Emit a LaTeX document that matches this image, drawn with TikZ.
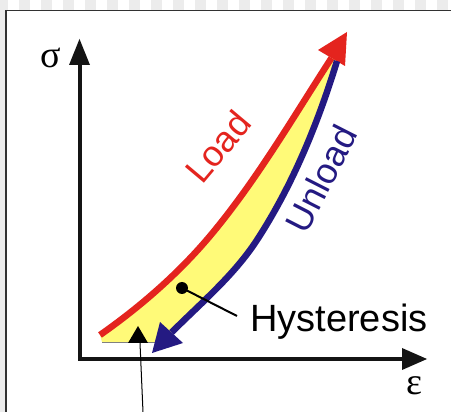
\documentclass[tikz,border=0pt]{standalone}
\usepackage{fontspec}
\setmainfont{Liberation Sans}
\newfontfamily\greekfont{Liberation Serif}
\definecolor{loadred}{RGB}{228,36,30}
\definecolor{unblue}{RGB}{36,26,130}
\definecolor{hystyel}{RGB}{255,250,120}
\definecolor{stripegray}{RGB}{236,236,236}
\definecolor{framegray}{RGB}{50,50,50}
\definecolor{axisblack}{RGB}{20,20,20}
\tikzset{
  bigtext/.style={inner sep=0pt, font=\fontsize{38}{40}\selectfont},
  curvetext/.style={inner sep=0pt, font=\fontsize{36}{38}\selectfont},
  greektext/.style={inner sep=0pt, font=\greekfont\fontsize{38}{40}\selectfont},
  axisline/.style={line width=4pt, draw=axisblack},
  curveline/.style={line width=6.5pt},
}
\begin{document}
\begin{tikzpicture}[x=1pt,y=-1pt]
\useasboundingbox (0,0) rectangle (451,412);
\fill[white] (0,0) rectangle (451,412);
% page decoration
\foreach \i in {0,...,20} \fill[stripegray] (\i*22-3,0) rectangle ++(11,10);
\fill[stripegray] (0,10) rectangle (5.5,412);
\draw[framegray, line width=1.5pt] (6,412) -- (6,10.5) -- (451,10.5);

% key points
\coordinate (rs) at (100,335);
\coordinate (rm) at (210,236);
\coordinate (re) at (331.5,58);
\coordinate (rtip) at (347,32);
\coordinate (bs) at (337,61);
\coordinate (bm) at (257,240);
\coordinate (be) at (171.5,332.5);
\coordinate (btip) at (152,353);

% hysteresis area
\fill[hystyel] (re) .. controls (292.3,118.6) and (256.3,180.8) .. (rm)
  .. controls (178.5,273.5) and (140,307) .. (rs) -- (102,342) -- (156,342)
  -- (be) .. controls (201.2,302.8) and (234.1,275.2) .. (bm)
  .. controls (293,184.6) and (318,123) .. (bs) -- cycle;
\draw[gray, line width=0.8pt] (102,342) -- (156,342);

% load curve
\draw[loadred, curveline] (rs) .. controls (140,307) and (178.5,273.5) .. (rm)
  .. controls (256.3,180.8) and (292.3,118.6) .. (re);
\fill[loadred] (rtip) -- (318,50) -- (345,66) -- cycle;

% unload curve
\draw[unblue, curveline] (bs) .. controls (318,123) and (293,184.6) .. (bm)
  .. controls (234.1,275.2) and (201.2,302.8) .. (be);
\fill[unblue] (btip) -- (160,322) -- (183,343) -- cycle;

% axes
\coordinate (origin) at (79.5,359);
\coordinate (ytip) at (79.5,39);
\coordinate (xtip) at (427,359);
\draw[axisline] (79.5,62) -- (origin) -- (404,359);
\fill[axisblack] (ytip) -- (69,65) -- (90,65) -- cycle;
\fill[axisblack] (xtip) -- (402,348) -- (402,370) -- cycle;
\node[greektext, anchor=base] (sig) at (50.5,68) {σ};
\node[greektext, anchor=base] (eps) at (414.5,395) {ε};

% labels
\node[curvetext, text=loadred, rotate=50] (load) at (218,147) {Load};
\node[curvetext, text=unblue, rotate=63] (unload) at (321,179) {Unload};
\node[bigtext, anchor=base west] (hyst) at (250,332) {Hysteresis};

% hysteresis pointer
\coordinate (dot) at (182,288);
\coordinate (hend) at (237,316);
\fill[black] (dot) circle (6);
\draw[black, line width=2pt] (dot) -- (hend);

% bottom marker
\coordinate (mtip) at (138,326);
\coordinate (mfoot) at (143,412);
\fill[black] (mtip) -- (128,343) -- (148,343) -- cycle;
\draw[black, line width=1pt] (140,343) -- (mfoot);
\end{tikzpicture}
\end{document}
